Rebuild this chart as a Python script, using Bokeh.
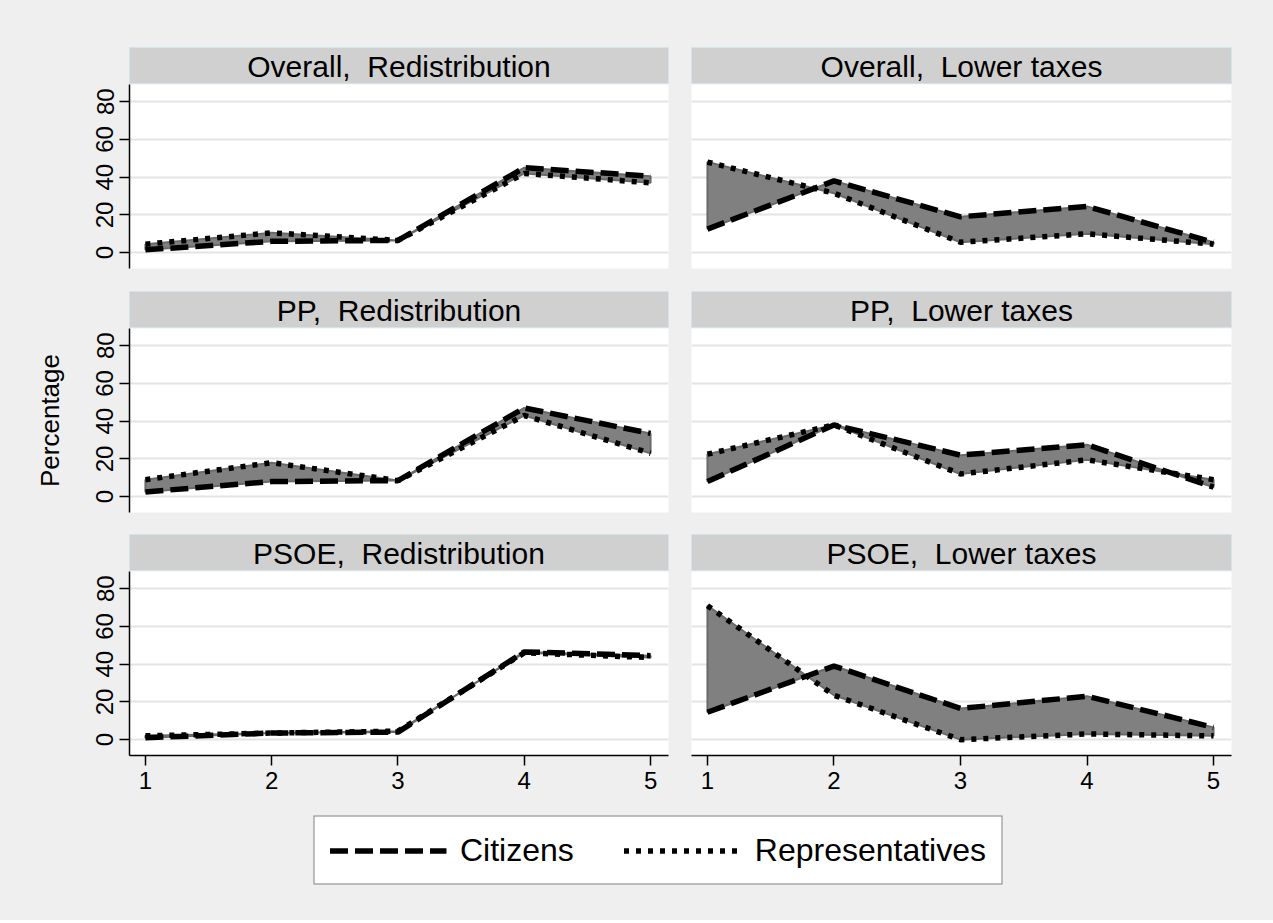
from bokeh.plotting import figure
from bokeh.layouts import column, row
from bokeh.models import Range1d, FixedTicker, Label, Legend, LegendItem
from bokeh.embed import file_html
from bokeh.resources import INLINE

# ---------------- data ----------------
x_cat = [1, 2, 3, 4, 5]
x_ticks = [1, 2, 3, 4, 5]
y_ticks = [0, 20, 40, 60, 80]

titles = [
    "Overall,\u00a0 Redistribution", "Overall,\u00a0 Lower taxes",
    "PP,\u00a0 Redistribution", "PP,\u00a0 Lower taxes",
    "PSOE,\u00a0 Redistribution", "PSOE,\u00a0 Lower taxes",
]

cit_overall_red = [1.5, 6.0, 6.5, 45.0, 40.5]
rep_overall_red = [4.5, 10.5, 6.5, 42.0, 37.0]
cit_overall_tax = [12.5, 38.0, 19.0, 24.5, 5.5]
rep_overall_tax = [48.0, 31.5, 5.5, 10.0, 4.5]
cit_pp_red = [2.5, 8.0, 8.5, 47.0, 33.5]
rep_pp_red = [9.0, 18.0, 8.5, 43.0, 23.0]
cit_pp_tax = [8.0, 38.0, 22.0, 27.5, 5.0]
rep_pp_tax = [22.5, 38.0, 12.0, 19.5, 9.0]
cit_psoe_red = [1.0, 3.5, 4.0, 46.5, 44.5]
rep_psoe_red = [2.0, 3.5, 4.5, 46.0, 43.5]
cit_psoe_tax = [14.5, 39.0, 16.5, 23.0, 6.5]
rep_psoe_tax = [71.0, 23.5, 0.0, 3.0, 2.0]

series = [
    (cit_overall_red, rep_overall_red), (cit_overall_tax, rep_overall_tax),
    (cit_pp_red, rep_pp_red), (cit_pp_tax, rep_pp_tax),
    (cit_psoe_red, rep_psoe_red), (cit_psoe_tax, rep_psoe_tax),
]

legend_labels = ["Citizens", "Representatives"]
y_title = "Percentage"

# ---------------- style ----------------
BG = "#efefef"
STRIP = "#d0d0d0"
FONT = "Liberation Sans"
DASH = "18 7"
DOT = "5 7"
LW = 5.5
TICK_FS = "24px"

LEFT_COL = dict(left=129, width=539, right=11)
RIGHT_COL = dict(left=12, width=540, right=42)


def strip_fig(title, col, top):
    f = figure(frame_width=col["width"], frame_height=37,
               min_border_left=col["left"], min_border_right=col["right"],
               min_border_top=top, min_border_bottom=0,
               x_range=Range1d(0, 1), y_range=Range1d(0, 1),
               x_axis_location=None, y_axis_location=None,
               toolbar_location=None, output_backend="svg")
    f.xgrid.visible = False
    f.ygrid.visible = False
    f.background_fill_color = STRIP
    f.border_fill_color = BG
    f.outline_line_color = "#d4e4ea"
    f.outline_line_width = 1
    f.add_layout(Label(x=0.5, y=0.5, text=title, text_align="center",
                       text_baseline="middle", text_font=FONT,
                       text_font_size="30px", text_color="black"))
    return f


def style_axis(ax):
    ax.major_label_text_font = FONT
    ax.major_label_text_font_size = TICK_FS
    ax.major_label_text_color = "black"
    ax.major_label_standoff = 6
    ax.axis_line_color = "black"
    ax.axis_line_width = 1.5
    ax.major_tick_line_color = "black"
    ax.major_tick_line_width = 1.5
    ax.major_tick_out = 10
    ax.major_tick_in = 0
    ax.minor_tick_out = 0
    ax.minor_tick_in = 0


def panel_fig(cit, rep, col, bottom, show_y, show_x, ylabel=None):
    f = figure(frame_width=col["width"], frame_height=184,
               min_border_left=col["left"], min_border_right=col["right"],
               min_border_top=0, min_border_bottom=bottom,
               x_range=Range1d(0.874, 5.142), y_range=Range1d(-8.4, 89.1),
               x_axis_location="below" if show_x else None,
               y_axis_location="left" if show_y else None,
               toolbar_location=None, output_backend="svg")
    f.background_fill_color = "white"
    f.border_fill_color = BG
    f.outline_line_color = None
    f.xgrid.visible = False
    f.ygrid.ticker = FixedTicker(ticks=y_ticks)
    f.ygrid.grid_line_color = "#e4e4e4"
    f.ygrid.grid_line_width = 2

    xs = x_cat + x_cat[::-1]
    ys = cit + rep[::-1]
    f.patch(xs, ys, fill_color="#808080", line_color="#6a6a6a", line_width=2)
    f.line(x_cat, cit, line_color="black", line_width=LW, line_dash=DASH)
    f.line(x_cat, rep, line_color="black", line_width=LW, line_dash=DOT)

    if show_y:
        ax = f.yaxis[0]
        ax.ticker = FixedTicker(ticks=y_ticks)
        ax.major_label_orientation = "vertical"
        style_axis(ax)
        if ylabel:
            ax.axis_label = ylabel
            ax.axis_label_text_font = FONT
            ax.axis_label_text_font_size = "26px"
            ax.axis_label_text_font_style = "normal"
            ax.axis_label_text_color = "black"
            ax.axis_label_standoff = 29
    if show_x:
        ax = f.xaxis[0]
        ax.ticker = FixedTicker(ticks=x_ticks)
        style_axis(ax)
    return f


rows = []
strip_tops = [47, 0, 0]
bottoms = [23, 22, 50]
for r in range(3):
    cells = []
    for c in range(2):
        i = r * 2 + c
        col = LEFT_COL if c == 0 else RIGHT_COL
        s = strip_fig(titles[i], col, strip_tops[r])
        cit, rep = series[i]
        p = panel_fig(cit, rep, col, bottoms[r], show_y=(c == 0), show_x=(r == 2),
                      ylabel=y_title if (c == 0 and r == 1) else None)
        cells.append(column(s, p, spacing=0, styles={"background-color": BG}))
    rows.append(row(*cells, spacing=0, styles={"background-color": BG}))

# legend figure (its data lines sit outside its visible range; only the legend shows)
lf = figure(frame_width=1231, frame_height=90, min_border_left=42, min_border_right=0,
            min_border_top=0, min_border_bottom=25,
            x_range=Range1d(100, 101), y_range=Range1d(100, 101),
            x_axis_location=None, y_axis_location=None,
            toolbar_location=None, output_backend="svg")
lf.xgrid.visible = False
lf.ygrid.visible = False
lf.background_fill_color = BG
lf.border_fill_color = BG
lf.background_fill_alpha = 0
lf.border_fill_alpha = 0
lf.outline_line_color = None
r1 = lf.line(x=x_cat, y=cit_overall_red, line_color="black", line_width=LW, line_dash=DASH)
r2 = lf.line(x=x_cat, y=rep_overall_red, line_color="black", line_width=LW, line_dash=DOT)
legend = Legend(items=[LegendItem(label=legend_labels[0], renderers=[r1]),
                       LegendItem(label=legend_labels[1], renderers=[r2])],
                orientation="horizontal", location="center",
                label_text_font=FONT, label_text_font_size="32px",
                label_text_color="black",
                glyph_width=117, glyph_height=34, label_height=34,
                label_standoff=14, spacing=50, padding=15, margin=0,
                border_line_color="black", border_line_width=1.3,
                background_fill_color="white", background_fill_alpha=1.0)
lf.add_layout(legend, "center")

layout = column(*rows, lf, spacing=0, styles={"background-color": BG})

open("out.html", "w").write(file_html(layout, INLINE))
